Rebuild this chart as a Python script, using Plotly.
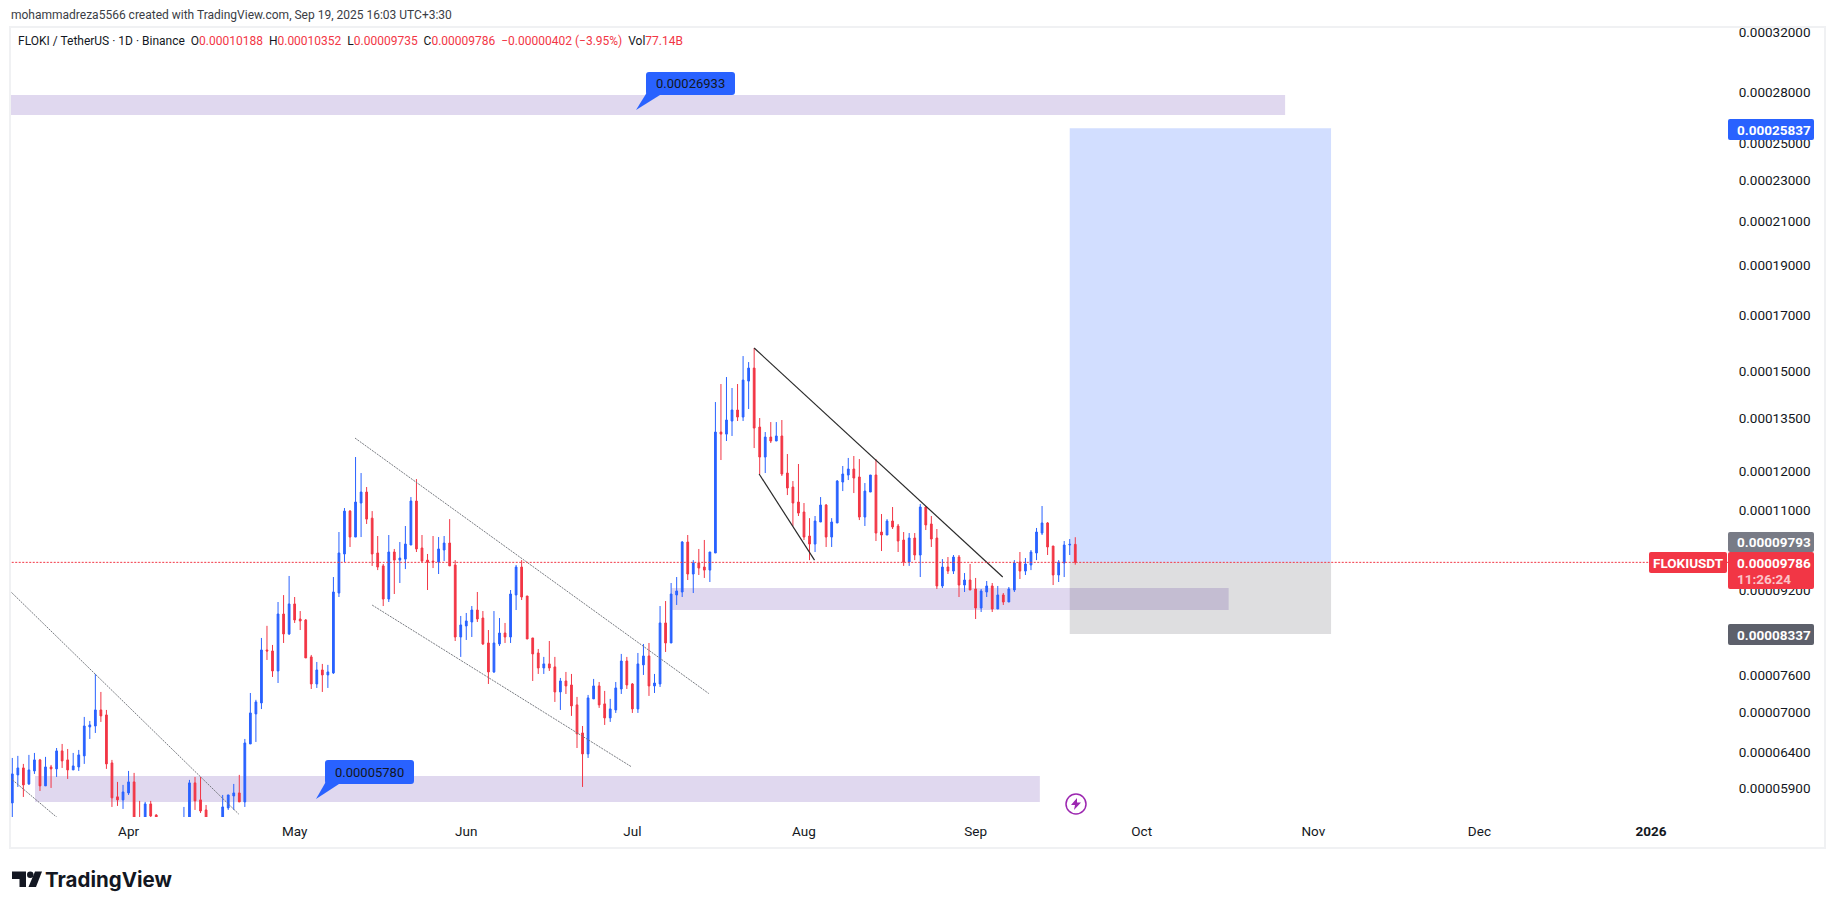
import datetime as dt
import numpy as np
import plotly.graph_objects as go

# ---- price data, in units of 0.00000001 ----
OPENS = [5713,6083,6178,5961,6137,6290,5935,6192,6165,6418,
6290,6151,6192,6347,6771,6786,7034,6956,6248,5791,
5752,5842,5988,5500,5500,5700,5561,5380,5150,5000,
5300,5378,5438,5975,5752,5624,5500,5350,5475,5650,
5803,5842,5726,6519,6972,7145,8044,8026,7675,8718,
8337,8916,8621,8602,7920,7455,7692,7607,7641,9137,
9971,10975,10356,11175,11453,10803,9993,9708,9015,10015,
9835,9858,10173,11225,10105,9835,9814,9793,10060,10218,
9729,8281,8488,8564,8796,8640,8171,7658,8153,8355,
8281,9097,9684,9076,8263,7990,7727,7797,7745,7323,
7505,7438,7114,6681,6375,7210,7422,7130,6910,7034,
7372,7848,7455,7050,7780,7937,7422,7455,8545,8171,
9097,9158,10241,9534,9772,9684,9618,9993,13098,13037,
13425,13760,13545,14680,15113,13245,12386,12952,12838,12983,
11950,11582,11200,10952,10380,10195,10710,11125,10356,10687,
11712,11897,12058,11845,10830,11453,11897,10473,10403,10734,
10615,10287,9793,10333,9948,11075,10663,10333,9282,9684,
9597,9903,9302,9407,9220,8836,9158,9282,8816,9097,
8955,9199,9793,9597,9729,9993,10449,10687,10150,9513,
9772,10173,10188]
HIGHS = [6318,6347,6234,6361,6389,6304,6333,6220,6460,6519,
6446,6389,6432,6925,6863,7624,7323,7034,6290,5988,
5948,6137,6110,5739,5726,5739,5570,5450,5300,5400,
5500,5662,6015,6055,6055,5687,5530,5500,5816,5816,
5961,6083,6592,7306,7195,8263,8490,8135,8955,9095,
9492,9056,8776,8621,7955,7831,7797,7780,9470,10473,
11050,11000,12386,11950,11582,10975,10380,9750,10403,10083,
10241,10615,11325,11790,10403,9971,10380,10356,10380,10780,
9835,8680,8738,8875,9158,8776,8411,8776,8640,8545,
9199,9729,9835,9076,8263,8062,7920,8207,7920,7556,
7658,7624,7242,6786,7274,7539,7488,7340,7210,7488,
7973,7920,7471,7990,8153,8171,7624,8875,8975,9344,
9470,10264,10403,9835,10083,10288,10015,14007,14583,14813,
14454,14583,15525,15318,15807,13515,13098,13394,13394,13455,
12469,11738,12194,11175,10803,10855,11325,11150,10803,11765,
12140,12360,12414,12330,11686,11897,12330,10903,10780,11075,
10663,10473,10449,10449,11150,11100,10855,10544,9858,9903,
9948,9948,9555,9750,9450,9220,9386,9344,9282,9137,
9261,9835,10015,9880,10060,10568,11100,10710,10150,9835,
10264,10310,10352]
LOWS = [5475,5921,5790,5948,6096,5868,5935,5908,6055,6178,
6028,6151,6137,6234,6592,6681,6848,6165,5662,5675,
5637,5816,5427,5378,5427,5500,5378,5100,4900,4600,
5150,5320,5378,5624,5586,5438,5300,5250,5427,5624,
5624,5726,5662,6519,6548,7048,7866,7573,7471,8171,
8319,8545,8411,7902,7372,7389,7323,7389,7624,9056,
9793,10128,10356,10356,10663,9708,9618,8875,8955,9117,
9344,9640,10173,10015,9793,9199,9662,9534,9814,9708,
8207,7920,8226,8281,8564,8135,7455,7641,8117,8171,
8171,8796,8995,8244,7505,7624,7624,7675,7161,7034,
7290,6941,6460,5921,6318,7210,7066,6802,6848,6987,
7290,7372,6987,6987,7607,7258,7306,7405,8008,8171,
8896,9056,9407,9137,9513,9450,9365,9993,12303,12838,
12983,13425,13425,13790,12637,11924,11950,12780,12838,11872,
11376,10615,10855,10287,9835,10015,10710,10128,10128,10687,
11478,11765,11427,10757,10615,11453,10264,10037,10403,10544,
10015,9708,9708,9835,9470,10520,10128,9220,9240,9534,
9534,9056,9158,9199,8621,8757,9056,8757,8816,8896,
8955,9158,9428,9513,9618,9835,10403,9948,9302,9365,
9470,9948,9735]
CLOSES = [6096,6178,5948,6151,6290,5935,6192,6165,6418,6276,
6151,6206,6361,6786,6802,7034,6941,6234,5778,5752,
5855,5988,5475,5438,5700,5549,5438,5150,5000,5300,
5350,5500,5975,5739,5611,5500,5350,5420,5662,5816,
5842,5726,6533,6987,7161,8044,8026,7675,8718,8337,
8916,8602,8583,7902,7455,7692,7607,7658,9158,9993,
10975,10356,11200,11453,10780,9971,9684,9015,10015,9835,
9880,10195,11225,10083,9814,9793,9793,10083,10218,9708,
8281,8507,8583,8796,8621,8153,7658,8171,8355,8281,
9117,9684,9056,8244,7973,7727,7797,7727,7323,7505,
7422,7098,6667,6375,7226,7422,7114,6910,7050,7389,
7848,7438,7050,7797,7937,7422,7471,8545,8171,9117,
9179,10241,9534,9772,9662,9618,10015,13098,13037,13455,
13760,13545,14713,15113,13215,12386,12952,12838,12983,11924,
11557,11175,10927,10356,10195,10734,11125,10356,10710,11738,
11924,12058,11817,10830,11478,11897,10449,10403,10734,10591,
10264,9793,10333,9948,11075,10640,10310,9282,9684,9597,
9903,9302,9407,9199,8836,9179,9282,8816,9097,8955,
9220,9772,9597,9750,10015,10473,10687,10128,9513,9793,
10173,10188,9786]

FIRST_DAY = "2025-03-11"
Y_TICK_LABELS = ["0.00032000","0.00028000","0.00025000","0.00023000","0.00021000","0.00019000",
                 "0.00017000","0.00015000","0.00013500","0.00012000","0.00011000","0.00009200",
                 "0.00007600","0.00007000","0.00006400","0.00005900"]
X_TICK_DATES = ["2025-04-01","2025-05-01","2025-06-01","2025-07-01","2025-08-01","2025-09-01",
                "2025-10-01","2025-11-01","2025-12-01","2026-01-01"]
X_TICK_LABELS = ["Apr","May","Jun","Jul","Aug","Sep","Oct","Nov","Dec","<b>2026</b>"]

# drawings: (start day, end day, price a, price b); days counted from FIRST_DAY
ZONES = [(-2, 229.9, 27837, 26620), (119, 219.7, 9239, 8796), (4.1, 185.6, 6068, 5726)]
TARGET_BOX = (191, 238.2, 25837, 9786)
STOP_BOX = (191, 238.2, 9786, 8337)
LIGHT_LINES = [(-0.4, 40.9, 9177, 5572), (-0.4, 8.6, 6042, 5500),
               (61.9, 125.8, 12923, 7297), (65, 111.9, 8894, 6191)]
DARK_LINES = [(134, 178.9, 15807, 9470), (134.9, 144.9, 11923, 9836)]
LAST_PRICE = 9786

SCALE = 1e-8
BLUE, RED = "#2962ff", "#f23645"
FONT = "Roboto"
W, H = 1835, 909
L, R, T, B = 11, 1728, 27, 817

assert len(OPENS) == len(HIGHS) == len(LOWS) == len(CLOSES) == 193

base = dt.datetime.fromisoformat(FIRST_DAY)
def day(d):
    return base + dt.timedelta(days=d)
dates = [day(i) for i in range(len(OPENS))]
def price(v):
    return v * SCALE
def px(x):
    return (x - L) / (R - L)
def py(y):
    return (B - y) / (B - T)

def rounded(x0, y0, x1, y1, r=3):
    X = lambda v: f"{px(v):.6f}"
    Y = lambda v: f"{py(v):.6f}"
    return (f"M{X(x0+r)},{Y(y0)} L{X(x1-r)},{Y(y0)} Q{X(x1)},{Y(y0)} {X(x1)},{Y(y0+r)} "
            f"L{X(x1)},{Y(y1-r)} Q{X(x1)},{Y(y1)} {X(x1-r)},{Y(y1)} "
            f"L{X(x0+r)},{Y(y1)} Q{X(x0)},{Y(y1)} {X(x0)},{Y(y1-r)} "
            f"L{X(x0)},{Y(y0+r)} Q{X(x0)},{Y(y0)} {X(x0+r)},{Y(y0)} Z")

def polygon(points):
    return "M" + " L".join(f"{px(a):.6f},{py(b):.6f}" for a, b in points) + " Z"

shapes, annotations = [], []

def data_rect(box, color):
    d0, d1, p0, p1 = box
    shapes.append(dict(type="rect", xref="x", yref="y", x0=day(d0), x1=day(d1),
                       y0=price(p0), y1=price(p1), fillcolor=color,
                       line=dict(width=0), layer="below"))

for z in ZONES:
    data_rect(z, "rgba(125,90,190,0.24)")
data_rect(TARGET_BOX, "rgba(41,98,255,0.21)")
data_rect(STOP_BOX, "rgba(60,60,70,0.17)")

def panel(path, fill, line=None, width=0):
    shapes.append(dict(type="path", xref="paper", yref="paper", path=path, fillcolor=fill,
                       line=dict(color=line or fill, width=width), layer="above"))

def text(x, y, s, size=13.5, color="#131722", anchor="left", bold=False, family=FONT):
    annotations.append(dict(xref="paper", yref="paper", x=px(x), y=py(y), text=f"<b>{s}</b>" if bold else s,
                            showarrow=False, xanchor=anchor, yanchor="middle", align=anchor,
                            font=dict(family=family, size=size, color=color),
                            borderpad=0, borderwidth=0))

# outer frame
shapes.append(dict(type="rect", xref="paper", yref="paper", x0=px(10), x1=px(1825), y0=py(848), y1=py(27),
                   line=dict(color="#f0f1f3", width=2), fillcolor="rgba(0,0,0,0)", layer="below"))

# callouts
for box, tip, label in [((646, 72, 735, 95), (636, 110), "0.00026933"),
                        ((325, 760, 414, 784), (316, 799), "0.00005780")]:
    x0, y0, x1, y1 = box
    panel(polygon([(x0 + 3, y1 - 6), (x0 + 14, y1), tip]), BLUE)
    panel(rounded(x0, y0, x1, y1), BLUE)
    text((x0 + x1) / 2, (y0 + y1) / 2, label, size=13, anchor="center")

# right-hand price labels
LEFT, RIGHT = 1728, 1814
for y0, y1, fill, label in [(119, 140, BLUE, "0.00025837"), (532, 552, "#787b86", "0.00009793"),
                            (624, 645, "#5d606b", "0.00008337")]:
    panel(rounded(LEFT, y0, RIGHT, y1, 2), fill)
    text(1737, (y0 + y1) / 2, label, color="white", bold=True, size=13.5)
panel(rounded(LEFT, 552, RIGHT, 589, 2), RED)
text(1737, 563, "0.00009786", color="white", bold=True, size=13.5)
text(1737, 579, "11:26:24", color="#fbc4c9", bold=True, size=13.5)
panel(rounded(1649, 552, 1727, 573, 2), RED)
text(1688, 562.5, "FLOKIUSDT", color="white", bold=True, size=13.5, anchor="center")

# lightning badge
shapes.append(dict(type="circle", xref="paper", yref="paper", x0=px(1066), x1=px(1086), y0=py(814), y1=py(794),
                   line=dict(color="#9c27b0", width=1.5), fillcolor="white", layer="above"))
panel(polygon([(1077, 798), (1071, 805), (1075, 805), (1074, 810), (1081, 802.5), (1077, 802.5)]), "#9c27b0")

# TradingView logo
panel(polygon([(12, 871.5), (26, 871.5), (26, 887), (19.5, 887), (19.5, 879), (12, 879)]), "#131722")
shapes.append(dict(type="circle", xref="paper", yref="paper", x0=px(27), x1=px(33.5), y0=py(878), y1=py(871.5),
                   line=dict(width=0), fillcolor="#131722", layer="above"))
panel(polygon([(35, 871.5), (42, 871.5), (36, 887), (28.5, 887)]), "#131722")
text(44.5, 879, "TradingView", size=20.5, bold=True, family="Inter")

# header
text(10.5, 15, "mohammadreza5566 created with TradingView.com, Sep 19, 2025 16:03 UTC+3:30", size=12, color="#3a3d45")
def r(s):
    return f"<span style='color:{RED}'>{s}</span>"
sep = "&nbsp;&nbsp;"
text(17.5, 41.5, f"FLOKI / TetherUS · 1D · Binance{sep}O{r('0.00010188')}{sep}H{r('0.00010352')}{sep}L{r('0.00009735')}"
                 f"{sep}C{r('0.00009786')}{sep}{r('−0.00000402 (−3.95%)')}{sep}Vol{r('77.14B')}", size=12)

fig = go.Figure()
fig.add_trace(go.Candlestick(
    x=dates, open=[price(v) for v in OPENS], high=[price(v) for v in HIGHS],
    low=[price(v) for v in LOWS], close=[price(v) for v in CLOSES],
    increasing=dict(line=dict(color=BLUE, width=1), fillcolor=BLUE),
    decreasing=dict(line=dict(color=RED, width=1), fillcolor=RED),
    whiskerwidth=0, showlegend=False, hoverinfo="skip"))

for d0, d1, p0, p1 in LIGHT_LINES:
    fig.add_trace(go.Scatter(x=[day(d0), day(d1)], y=[price(p0), price(p1)], mode="lines",
                             line=dict(color="#777a80", width=1, dash="2px,1px"),
                             showlegend=False, hoverinfo="skip"))
for d0, d1, p0, p1 in DARK_LINES:
    fig.add_trace(go.Scatter(x=[day(d0), day(d1)], y=[price(p0), price(p1)], mode="lines",
                             line=dict(color="#2a2a2a", width=1.2),
                             showlegend=False, hoverinfo="skip"))
fig.add_trace(go.Scatter(x=[day(-2), day(315)], y=[price(LAST_PRICE)] * 2, mode="lines",
                         line=dict(color=RED, width=1, dash="2px,1.5px"),
                         showlegend=False, hoverinfo="skip"))

y_ticks = [float(s) for s in Y_TICK_LABELS]
fig.update_layout(
    width=W, height=H, margin=dict(l=L, r=W - R, t=T, b=H - B, pad=0, autoexpand=False),
    paper_bgcolor="white", plot_bgcolor="white", boxgap=0.55, showlegend=False,
    hovermode=False, dragmode=False,
    font=dict(family=FONT, size=13.5, color="#131722"),
    shapes=shapes, annotations=annotations,
    xaxis=dict(type="date", range=[day(-0.235), day(309.9)], rangeslider=dict(visible=False),
               tickmode="array", tickvals=X_TICK_DATES, ticktext=X_TICK_LABELS,
               showgrid=False, zeroline=False, showline=False, ticks="outside", ticklen=2,
               tickcolor="rgba(0,0,0,0)", tickfont=dict(family=FONT, size=13.5, color="#131722")),
    yaxis=dict(type="log", side="right", range=[np.log10(price(5536)), np.log10(price(32413))],
               tickmode="array", tickvals=y_ticks, ticktext=Y_TICK_LABELS,
               showgrid=False, zeroline=False, showline=False, ticks="outside", ticklen=7,
               tickcolor="rgba(0,0,0,0)", tickfont=dict(family=FONT, size=13.5, color="#131722")),
)
fig.write_html("out.html", config=dict(displayModeBar=False, staticPlot=True),
               post_script="document.body.style.margin='0';document.documentElement.style.overflow='hidden';")
